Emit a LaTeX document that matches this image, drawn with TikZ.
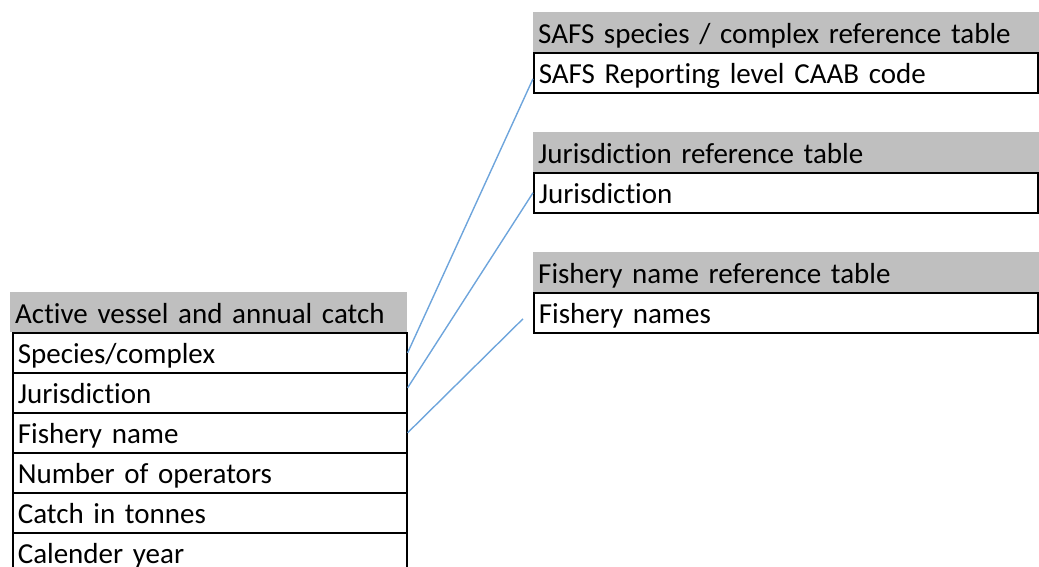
\documentclass[tikz,border=0pt]{standalone}
\usepackage{fontspec}
\setmainfont[Ligatures=CommonOff]{Carlito}
\usetikzlibrary{calc}
\definecolor{headgray}{RGB}{191,191,191}
\definecolor{linkblue}{RGB}{110,165,220}
\tikzset{
  cell/.style={anchor=north west, inner xsep=5pt, inner ysep=0pt,
    text height=31pt, text depth=9pt, align=left,
    font=\fontsize{29}{32}\selectfont},
  headcell/.style={cell, fill=headgray},
  rowcell/.style={cell, draw=black, line width=1.6pt},
  link/.style={draw=linkblue, line width=1.4pt}
}
\begin{document}
\begin{tikzpicture}[x=1pt,y=-1pt]
\useasboundingbox (0,0) rectangle (1039,566);
% main table
\node[headcell, text width=387pt] (ah) at (10,292) {Active vessel and annual catch};
\node[rowcell, text width=384pt] (sp) at (12,332) {Species/complex};
\node[rowcell, text width=384pt] (jr) at (12,372) {Jurisdiction};
\node[rowcell, text width=384pt] (fn) at (12,412) {Fishery name};
\node[rowcell, text width=384pt] (no) at (12,452) {Number of operators};
\node[rowcell, text width=384pt] (ct) at (12,492) {Catch in tonnes};
\node[rowcell, text width=384pt] (cy) at (12,532) {Calender year};
% reference tables
\node[headcell, text width=520pt] (sh) at (533,12) {SAFS species / complex reference table};
\node[rowcell, text width=494pt] (sr) at (533,52) {SAFS Reporting level CAAB code};
\node[headcell, text width=520pt] (jh) at (533,132) {Jurisdiction reference table};
\node[rowcell, text width=494pt] (jt) at (533,172) {Jurisdiction};
\node[headcell, text width=520pt] (fh) at (533,252) {Fishery name reference table};
\node[rowcell, text width=494pt] (ft) at (533,292) {Fishery names};
% links
\draw[link] (sp.east) -- ($(sr.west)+(0,6)$);
\draw[link] ($(jr.east)+(0,-5)$) -- (jt.west);
\draw[link] (fn.east) -- ($(ft.west)+(-10,6)$);
\end{tikzpicture}
\end{document}
